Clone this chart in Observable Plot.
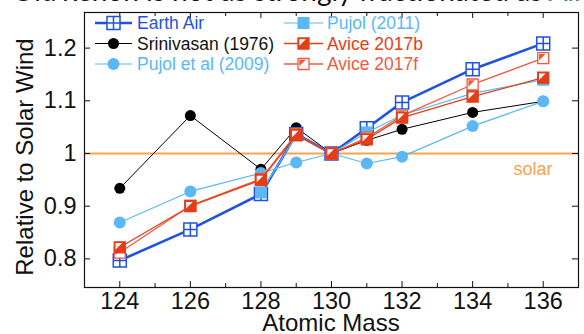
<!DOCTYPE html>
<html><head><meta charset="utf-8">
<script src="https://cdn.jsdelivr.net/npm/d3@7"></script>
<script src="https://cdn.jsdelivr.net/npm/@observablehq/plot@0.6"></script>
<style>
body{margin:0;background:#fff;overflow:hidden;}
#wrap{position:relative;width:584px;height:334px;overflow:hidden;font-family:"Liberation Sans",Arial,sans-serif;}
#chart{position:absolute;left:0;top:0;}
#title{position:absolute;left:12px;top:-27px;font-family:Lato,"Open Sans",sans-serif;font-size:28px;white-space:nowrap;color:#111;}
#title span{color:#3a7bd5;}
#legend{position:absolute;left:0;top:0;}
</style></head><body>
<div id="wrap"><div id="chart"></div><div id="title">Old xenon is not as strongly fractionated as <span>Air</span></div><svg id="legend" width="584" height="334"></svg></div>
<script>
// ---- data ----
const masses = [124, 126, 128, 129, 130, 131, 132, 134, 136];
const earthAir   = [0.797, 0.856, 0.923, 1.037, 1.000, 1.048, 1.097, 1.160, 1.209];
const srinivasan = [0.934, 1.072, 0.970, 1.049, 1.000, 1.025, 1.046, 1.078, 1.099];
const pujol2009  = [0.869, 0.928, 0.963, 0.983, 1.000, 0.981, 0.994, 1.052, 1.099];
const masses2011 = [128, 129, 130, 131, 132, 134, 136];
const pujol2011  = [0.926, 1.035, 1.000, 1.040, 1.073, 1.114, 1.140];
const avice2017b = [0.822, 0.900, 0.950, 1.035, 1.000, 1.027, 1.068, 1.108, 1.144];
const avice2017f = [0.812, 0.901, 0.952, 1.037, 1.000, 1.030, 1.072, 1.131, 1.181];
const xTickLabels = [124, 126, 128, 130, 132, 134, 136];
const xMinorTicks = [125, 127, 129, 131, 133, 135];
const yTickLabels = [0.8, 0.9, 1, 1.1, 1.2];
const solarLevel = 1;
const xTitle = "Atomic Mass", yTitle = "Relative to Solar Wind";

// ---- symbols ----
const sq = (ctx, r) => { ctx.moveTo(-r, -r); ctx.lineTo(r, -r); ctx.lineTo(r, r); ctx.lineTo(-r, r); ctx.closePath(); };
const squareCross = {draw(ctx, size) { const r = Math.sqrt(size / Math.PI); sq(ctx, r); ctx.moveTo(0, -r); ctx.lineTo(0, r); ctx.moveTo(-r, 0); ctx.lineTo(r, 0); }};
const squareSym = {draw(ctx, size) { const r = Math.sqrt(size / Math.PI); sq(ctx, r); }};
const triUL = {draw(ctx, size) { const r = Math.sqrt(size / Math.PI); ctx.moveTo(-r, -r); ctx.lineTo(r * 0.55, -r); ctx.lineTo(-r, r * 0.55); ctx.closePath(); }};

const series = [
  {name: "Earth Air", xs: masses, ys: earthAir, color: "#1f52e0", sw: 2.6, kind: "cross"},
  {name: "Srinivasan (1976)", xs: masses, ys: srinivasan, color: "#000000", sw: 1, kind: "dot", legendColor: "#111"},
  {name: "Pujol et al (2009)", xs: masses, ys: pujol2009, color: "#5bb8f5", sw: 1.2, kind: "circle"},
  {name: "Pujol (2011)", xs: masses2011, ys: pujol2011, color: "#5bb8f5", sw: 1.2, kind: "square"},
  {name: "Avice 2017b", xs: masses, ys: avice2017b, color: "#e53d17", sw: 1.3, kind: "b"},
  {name: "Avice 2017f", xs: masses, ys: avice2017f, color: "#ef5a3c", sw: 1.3, kind: "f"}
];
const rows = s => s.xs.map((x, i) => ({x, y: s.ys[i]}));

const xDom = [123, 137], yDom = [0.7457, 1.2676];
const W = 584, H = 334, mL = 84, mR = 6, mT = 12, mB = 47;
const yPerPx = (yDom[1] - yDom[0]) / (H - mT - mB), xPerPx = (xDom[1] - xDom[0]) / (W - mL - mR);

function seriesMarks(s) {
  const d = rows(s), m = [Plot.line(d, {x: "x", y: "y", stroke: s.color, strokeWidth: s.sw})];
  if (s.kind === "cross") m.push(Plot.dot(d, {x: "x", y: "y", symbol: squareCross, r: 6.5, fill: "white", stroke: s.color, strokeWidth: 1.5}));
  if (s.kind === "dot") m.push(Plot.dot(d, {x: "x", y: "y", r: 5.5, fill: s.color, stroke: "none"}));
  if (s.kind === "circle") m.push(Plot.dot(d, {x: "x", y: "y", r: 6, fill: s.color, stroke: "none"}));
  if (s.kind === "square") m.push(Plot.dot(d, {x: "x", y: "y", symbol: squareSym, r: 6, fill: s.color, stroke: "none"}));
  if (s.kind === "b") m.push(Plot.dot(d, {x: "x", y: "y", symbol: squareSym, r: 5.5, fill: s.color, stroke: s.color, strokeWidth: 1.3}),
                              Plot.dot(d, {x: "x", y: "y", symbol: triUL, r: 4.2, fill: "white", stroke: "none"}));
  if (s.kind === "f") m.push(Plot.dot(d, {x: "x", y: "y", symbol: squareSym, r: 5.5, fill: "white", stroke: s.color, strokeWidth: 1.3}),
                              Plot.dot(d, {x: "x", y: "y", symbol: triUL, r: 4.2, fill: s.color, stroke: "none"}));
  return m;
}
const order = [1, 0, 3, 2, 5, 4];

const plot = Plot.plot({
  width: W, height: H, marginLeft: mL, marginRight: mR, marginTop: mT, marginBottom: mB,
  style: {fontFamily: "'Liberation Sans', Arial, sans-serif", background: "transparent", color: "#111"},
  x: {domain: xDom, axis: null},
  y: {domain: yDom, axis: null},
  marks: [
    Plot.ruleY([solarLevel], {y: d => d, stroke: "#f7a54c", strokeWidth: 2}),
    Plot.text([solarLevel], {y: d => d, text: () => "solar", frameAnchor: "right", textAnchor: "end", dx: -26, dy: 16, fill: "#f7a54c", fontSize: 18}),
    ...order.flatMap(i => seriesMarks(series[i])),
    Plot.frame({stroke: "#111", strokeWidth: 1.2}),
    Plot.ruleX(xTickLabels, {x: d => d, y1: yDom[0], y2: yDom[0] + 6 * yPerPx, stroke: "#111"}),
    Plot.ruleX(xMinorTicks, {x: d => d, y1: yDom[0], y2: yDom[0] + 4 * yPerPx, stroke: "#111"}),
    Plot.ruleX(xTickLabels, {x: d => d, y1: yDom[1], y2: yDom[1] - 6 * yPerPx, stroke: "#111"}),
    Plot.ruleX(xMinorTicks, {x: d => d, y1: yDom[1], y2: yDom[1] - 4 * yPerPx, stroke: "#111"}),
    Plot.ruleY(yTickLabels, {y: d => d, x1: xDom[0], x2: xDom[0] + 6 * xPerPx, stroke: "#111"}),
    Plot.ruleY(yTickLabels, {y: d => d, x1: xDom[1], x2: xDom[1] - 6 * xPerPx, stroke: "#111"}),
    Plot.axisX(xTickLabels, {tickSize: 0, tickPadding: 5, fontSize: 23.5, label: null}),
    Plot.axisY(yTickLabels, {tickSize: 0, tickPadding: 8, fontSize: 23.5, label: null, tickFormat: d => String(d)})
  ]
});
document.getElementById("chart").appendChild(plot);

// ---- axis titles and legend ----
const lg = d3.select("#legend");
const ff = "'Liberation Sans', Arial, sans-serif";
lg.append("text").attr("x", mL + (W - mL - mR) / 2).attr("y", 322).attr("dy", "0.36em").attr("text-anchor", "middle")
  .attr("font-size", 24).attr("font-family", ff).attr("fill", "#111").text(xTitle);
lg.append("text").attr("transform", "translate(24,157) rotate(-90)").attr("dy", "0.36em").attr("text-anchor", "middle")
  .attr("font-size", 24).attr("font-family", ff).attr("fill", "#111").text(yTitle);

const cols = [{x0: 95, x1: 132, tx: 137}, {x0: 284, x1: 323, tx: 327}];
const rowsY = [23, 43.5, 64];
series.forEach((s, i) => {
  const c = cols[Math.floor(i / 3)], y = rowsY[i % 3], cx = (c.x0 + c.x1) / 2;
  const g = lg.append("g");
  g.append("line").attr("x1", c.x0).attr("x2", c.x1).attr("y1", y).attr("y2", y).attr("stroke", s.color).attr("stroke-width", s.sw);
  const sym = (type, r) => d3.symbol().type(type).size(r * r * Math.PI)();
  const tr = `translate(${cx},${y})`;
  if (s.kind === "cross") g.append("path").attr("d", sym(squareCross, 6.5)).attr("transform", tr).attr("fill", "white").attr("stroke", s.color).attr("stroke-width", 1.5);
  if (s.kind === "dot") g.append("circle").attr("cx", cx).attr("cy", y).attr("r", 5.5).attr("fill", s.color);
  if (s.kind === "circle") g.append("circle").attr("cx", cx).attr("cy", y).attr("r", 6).attr("fill", s.color);
  if (s.kind === "square") g.append("path").attr("d", sym(squareSym, 6)).attr("transform", tr).attr("fill", s.color);
  if (s.kind === "b") { g.append("path").attr("d", sym(squareSym, 5.5)).attr("transform", tr).attr("fill", s.color).attr("stroke", s.color).attr("stroke-width", 1.3);
    g.append("path").attr("d", sym(triUL, 4.2)).attr("transform", tr).attr("fill", "white"); }
  if (s.kind === "f") { g.append("path").attr("d", sym(squareSym, 5.5)).attr("transform", tr).attr("fill", "white").attr("stroke", s.color).attr("stroke-width", 1.3);
    g.append("path").attr("d", sym(triUL, 4.2)).attr("transform", tr).attr("fill", s.color); }
  g.append("text").attr("x", c.tx).attr("y", y).attr("dy", "0.35em").attr("font-size", 17.5)
    .attr("font-family", ff).attr("fill", s.legendColor || s.color).text(s.name);
});
</script>
</body></html>
